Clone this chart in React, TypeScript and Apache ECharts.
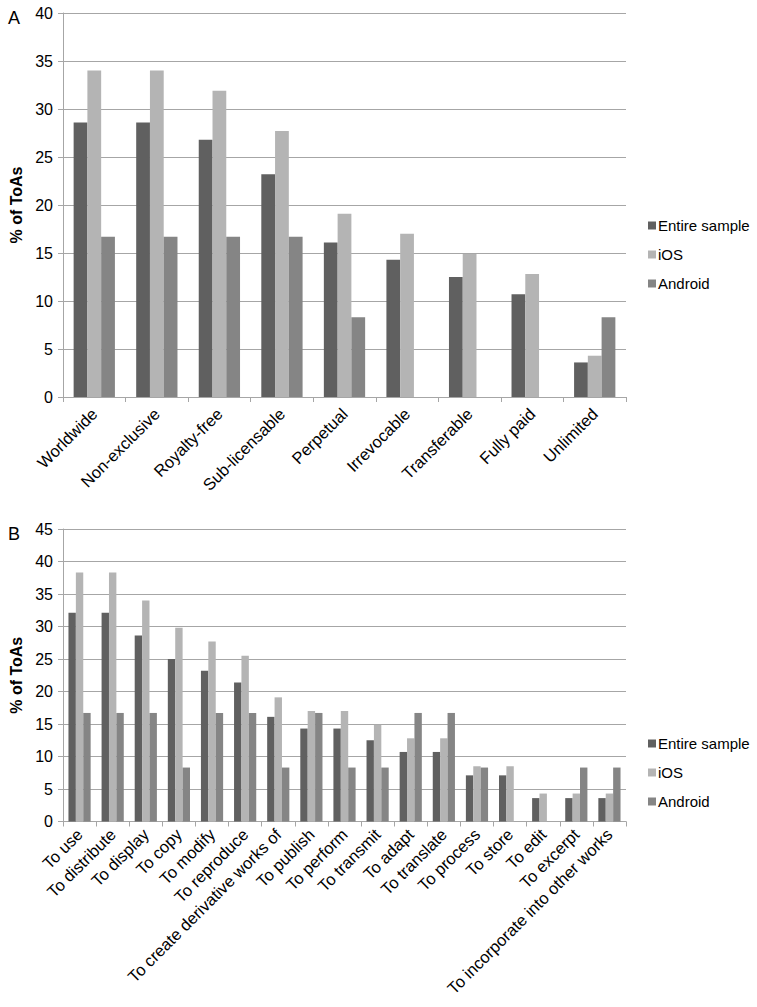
import React, { useEffect, useRef } from "react";
import * as echarts from "echarts";

const seriesNames = ["Entire sample", "iOS", "Android"];
const colors = ["#606060", "#b4b4b4", "#858585"];

const catsA = ["Worldwide", "Non-exclusive", "Royalty-free", "Sub-licensable", "Perpetual", "Irrevocable", "Transferable", "Fully paid", "Unlimited"];
const entireA = [28.6, 28.6, 26.8, 23.2, 16.1, 14.3, 12.5, 10.7, 3.6];
const iosA = [34.0, 34.0, 31.9, 27.7, 19.1, 17.0, 14.9, 12.8, 4.3];
const androidA = [16.7, 16.7, 16.7, 16.7, 8.3, 0, 0, 0, 8.3];

const catsB = ["To use", "To distribute", "To display", "To copy", "To modify", "To reproduce", "To create derivative works of", "To publish", "To perform", "To transmit", "To adapt", "To translate", "To process", "To store", "To edit", "To excerpt", "To incorporate into other works"];
const entireB = [32.1, 32.1, 28.6, 25.0, 23.2, 21.4, 16.1, 14.3, 14.3, 12.5, 10.7, 10.7, 7.1, 7.1, 3.6, 3.6, 3.6];
const iosB = [38.3, 38.3, 34.0, 29.8, 27.7, 25.5, 19.1, 17.0, 17.0, 14.9, 12.8, 12.8, 8.5, 8.5, 4.3, 4.3, 4.3];
const androidB = [16.7, 16.7, 16.7, 8.3, 16.7, 16.7, 8.3, 16.7, 8.3, 8.3, 16.7, 16.7, 8.3, 0, 0, 8.3, 8.3];

const FONT = "Liberation Sans, Arial, sans-serif";
const GRID_COLOR = "#a6a6a6";

export default function App() {
  const ref = useRef<HTMLDivElement>(null);
  useEffect(() => {
    document.body.style.margin = "0";
    const chart = echarts.init(ref.current!, null, { renderer: "svg" });
    const mkX = (idx: number, data: string[], fontSize: number, margin: number) => ({
      type: "category",
      gridIndex: idx,
      data,
      axisLine: { lineStyle: { color: GRID_COLOR, width: 1 } },
      axisTick: { show: true, length: 5, lineStyle: { color: GRID_COLOR } },
      axisLabel: { rotate: 45, color: "#000", fontFamily: FONT, fontSize, margin, interval: 0 },
    });
    const mkY = (idx: number, max: number) => ({
      type: "value",
      gridIndex: idx,
      min: 0,
      max,
      interval: 5,
      name: "% of ToAs",
      nameLocation: "middle",
      nameGap: 38,
      nameTextStyle: { fontFamily: FONT, fontSize: 16, fontWeight: "bold", color: "#000" },
      axisLine: { show: true, lineStyle: { color: GRID_COLOR, width: 1 } },
      axisTick: { show: true, length: 5, lineStyle: { color: GRID_COLOR } },
      axisLabel: { color: "#000", fontFamily: FONT, fontSize: 16, margin: 10 },
      splitLine: { show: true, lineStyle: { color: GRID_COLOR, width: 1 } },
    });
    const mkSeries = (idx: number, vals: number[][], catGap: string) =>
      vals.map((v, i) => ({
        type: "bar",
        name: seriesNames[i],
        xAxisIndex: idx,
        yAxisIndex: idx,
        data: v,
        itemStyle: { color: colors[i] },
        barGap: "0%",
        barCategoryGap: catGap,
      }));
    const mkLegend = (top: number) => ({
      orient: "vertical",
      left: 643,
      top,
      itemWidth: 8,
      itemHeight: 8,
      itemGap: 14,
      icon: "rect",
      data: seriesNames.map((n) => ({ name: n })),
      textStyle: { fontFamily: FONT, fontSize: 15, color: "#000", padding: [0, 0, 0, -3] },
    });
    chart.setOption({
      animation: false,
      backgroundColor: "#fff",
      title: [
        { text: "A", left: 3, top: 4, textStyle: { fontFamily: FONT, fontSize: 18, fontWeight: "normal", color: "#000" } },
        { text: "B", left: 3, top: 520, textStyle: { fontFamily: FONT, fontSize: 18, fontWeight: "normal", color: "#000" } },
      ],
      grid: [
        { left: 63, right: 131, top: 13, height: 384 },
        { left: 63, right: 131, top: 529, height: 292.5 },
      ],
      xAxis: [mkX(0, catsA, 16.5, 14), mkX(1, catsB, 16.5, 10)],
      yAxis: [mkY(0, 40), mkY(1, 45)],
      legend: [mkLegend(213), mkLegend(731)],
      series: [
        ...mkSeries(0, [entireA, iosA, androidA], "34%"),
        ...mkSeries(1, [entireB, iosB, androidB], "33%"),
      ],
    } as any);
    return () => chart.dispose();
  }, []);
  return <div ref={ref} style={{ width: 757, height: 1007 }} />;
}
